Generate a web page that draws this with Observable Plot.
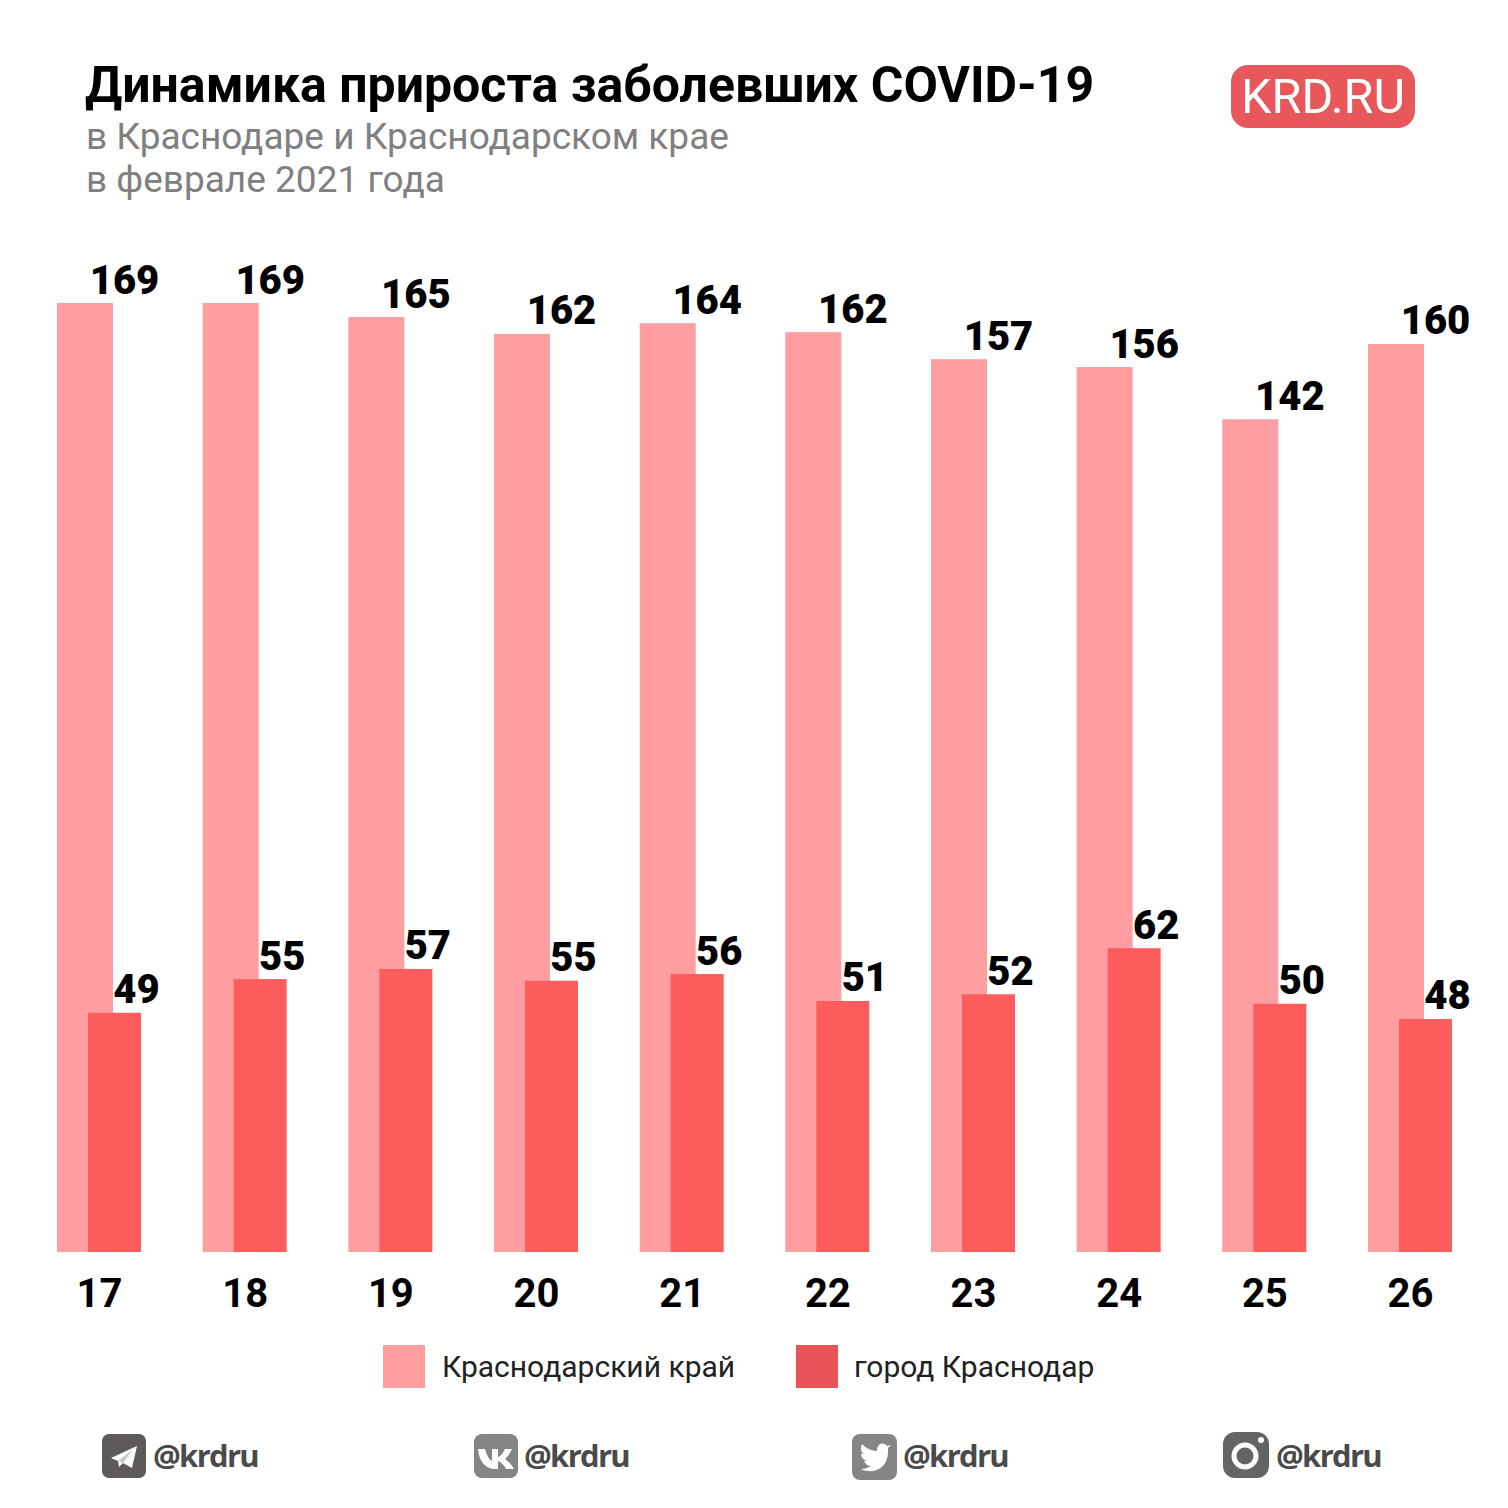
<!DOCTYPE html>
<html><head><meta charset="utf-8">
<script src="https://cdn.jsdelivr.net/npm/d3@7"></script>
<script src="https://cdn.jsdelivr.net/npm/@observablehq/plot@0.6"></script>
<style>
html,body{margin:0;padding:0;background:#fff}
#page{position:relative;width:1508px;height:1508px;overflow:hidden;font-family:Roboto,sans-serif}
#page>*{position:absolute}
#chart{left:0;top:230px}
#chart svg{display:block;background:transparent}
.sub{color:#808080;font-size:37px;line-height:43px;left:86px;top:115px;white-space:pre}
.title{left:85px;top:57px;font-size:50px;font-weight:700;line-height:57px;color:#000;white-space:nowrap}
.logo{left:1231px;top:65px;width:184px;height:63px;border-radius:17px;background:#E8575A;color:#fff;font-size:48.500px;line-height:63px;text-align:center}
.sw{width:42px;height:43px;top:1345px}
.lg{top:1349px;font-size:30px;line-height:36px;color:#222;white-space:nowrap}
.h{top:1432px;font-family:"Open Sans",sans-serif;font-weight:700;font-size:31px;line-height:46px;color:#4a4a4a;letter-spacing:-1.7px}
.ic{top:1434px;width:44px;height:44px}
</style></head><body>
<div id="page">
<div class="title">Динамика прироста заболевших COVID-19</div>
<div class="sub">в Краснодаре и Краснодарском крае
в феврале 2021 года</div>
<div class="logo">KRD.RU</div>
<div id="chart"></div>
<div class="sw" style="left:383px;background:#FF9EA0"></div>
<div class="lg" style="left:442px">Краснодарский край</div>
<div class="sw" style="left:796px;background:#E85458"></div>
<div class="lg" style="left:854px">город Краснодар</div>

<svg class="ic" style="left:102px" viewBox="0 0 44 44"><rect width="44" height="44" rx="7" fill="#5f5a5a"/><path d="M9 24 L35 12 L30 34 L21 29 L17 33 L16 27 Z" fill="#fff"/><path d="M16 27 L31 15 L21 29" fill="#c9c9c9"/></svg>
<div class="h" style="left:153px">@krdru</div>
<svg class="ic" style="left:474px" viewBox="0 0 44 44"><rect width="44" height="44" rx="8" fill="#858585"/><path d="M4 15 H11 C13 22 15 25 18 27 V15 H24 V23 C27 22 29 19 31 15 H38 C36 20 33 23 31 25 C34 27 37 30 40 35 H32 C30 31 27 28 24 27 V35 H21 C11 35 5 27 4 15 Z" fill="#fff"/></svg>
<div class="h" style="left:524px">@krdru</div>
<svg class="ic" style="left:852px;width:45px;height:46px" viewBox="0 0 45 46"><rect width="45" height="46" rx="8" fill="#858585"/><path d="M36 14 L39 11 L35 12 C33 9 29 9 27 11 C25 13 25 15 25 17 C19 17 14 14 10 10 C8 14 9 18 12 20 L9 19.500 C9 23 11 26 15 27 L12 27 C13 30 16 32 19 32 C16 34 12 35 9 35 C20 41 36 35 36 18 Z" fill="#fff"/></svg>
<div class="h" style="left:903px">@krdru</div>
<svg class="ic" style="left:1223px;width:46px;height:46px;top:1432px" viewBox="0 0 46 46"><rect width="46" height="46" rx="12" fill="#666462"/><circle cx="22" cy="24" r="11" fill="none" stroke="#fff" stroke-width="5"/><circle cx="38" cy="8" r="3" fill="#fff"/></svg>
<div class="h" style="left:1276px">@krdru</div>
</div>
<script>
const days = ["17","18","19","20","21","22","23","24","25","26"];
const regionLabels = [169,169,165,162,164,162,157,156,142,160];
const cityLabels = [49,55,57,55,56,51,52,62,50,48];
// Bar lengths as drawn in the picture, read on the axis where the tallest bar is 169.
// The original graphic's bars are not strictly proportional to their printed labels.
const regionDrawn = [169,169,166.5,163.5,165.4,163.8,159,157.6,148.3,161.7];
const cityDrawn = [42.6,48.6,50.4,48.3,49.5,44.7,45.9,54.1,44.2,41.5];

const rows = days.map((d,i)=>({day:d,region:regionDrawn[i],city:cityDrawn[i],rl:regionLabels[i],cl:cityLabels[i]}));
const labelFont = {fontFamily:"Roboto",fontWeight:900,fontSize:40,fill:"#000",lineAnchor:"bottom"};
const chart = Plot.plot({
  width:1508,height:1090,marginTop:0,marginBottom:0,marginLeft:0,marginRight:0,
  style:{background:"transparent"},
  x:{type:"band",domain:days,range:[57,1452],paddingInner:0.4233,paddingOuter:0,round:false,label:null,axis:null},
  y:{domain:[0,169],range:[1022,73],axis:null},
  marks:[
    Plot.barY(rows,{x:"day",y:"region",fill:"#FF9EA0",insetRight:28}),
    Plot.barY(rows,{x:"day",y:"city",fill:"#FF5C5E",insetLeft:31}),
    Plot.text(rows,{x:"day",y:"region",text:d=>String(d.rl),dx:25,dy:-10,...labelFont}),
    Plot.text(rows,{x:"day",y:"city",text:d=>String(d.cl),dx:37,dy:-10,...labelFont}),
    Plot.axisX({anchor:"bottom",y:0,tickSize:0,tickPadding:26,fontFamily:"Roboto",fontWeight:700,fontSize:40,fill:"#000",color:"#000",label:null,lineAnchor:"top"})
  ]
});
document.getElementById("chart").appendChild(chart);
</script>
</body></html>
